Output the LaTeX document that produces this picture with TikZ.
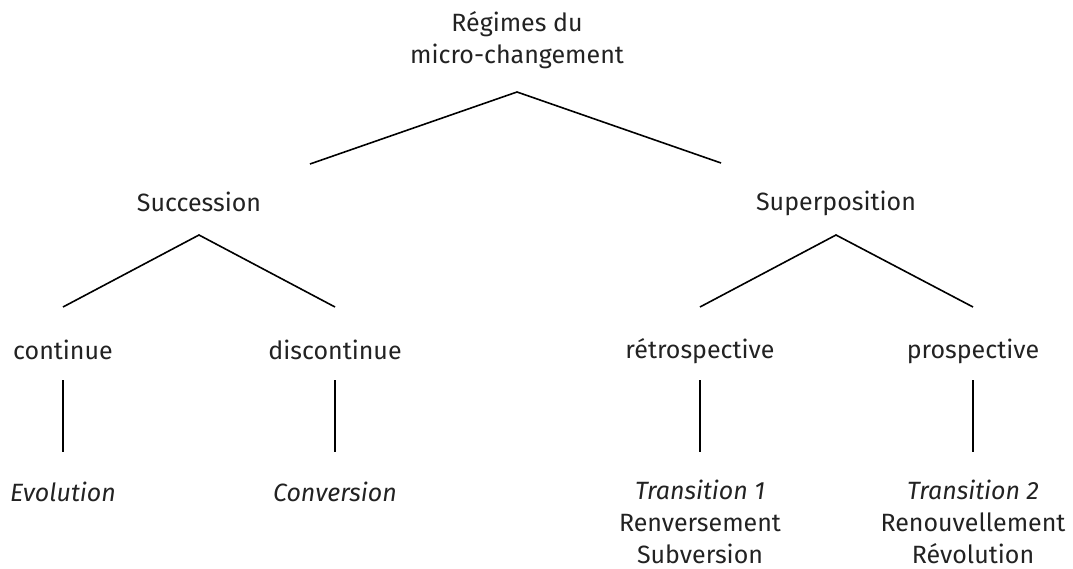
\documentclass[tikz,border=0pt]{standalone}
\usepackage{fontspec}
\setmainfont{Fira Sans}
\definecolor{txt}{HTML}{222222}
\begin{document}
\begin{tikzpicture}[x=1pt,y=-1pt,
  lbl/.style={inner sep=0pt,text=txt,font=\fontsize{25}{32}\selectfont,align=center},
  edge/.style={line width=1.6pt,black}]
\useasboundingbox (0,0) rectangle (1073,569);
% texts
\node[lbl] (root) at (517,40) {Régimes du\\micro-changement};
\node[lbl] (succ) at (199,202) {Succession};
\node[lbl] (sup) at (836,203) {Superposition};
\node[lbl] (cont) at (63,350) {continue};
\node[lbl] (disc) at (335,350) {discontinue};
\node[lbl] (retro) at (700,351) {rétrospective};
\node[lbl] (pros) at (973,351) {prospective};
\node[lbl] (evol) at (63,492) {\itshape Evolution};
\node[lbl] (conv) at (335,492) {\itshape Conversion};
\node[lbl] (tr1) at (700,522) {\textit{Transition 1}\\Renversement\\Subversion};
\node[lbl] (tr2) at (973,522) {\textit{Transition 2}\\Renouvellement\\Révolution};
% connector end points
\coordinate (rootA) at (517,92);
\coordinate (succT) at (310,164);
\coordinate (supT) at (721,163);
\coordinate (succA) at (199,235);
\coordinate (supA) at (836,235);
\coordinate (contT) at (63,307);
\coordinate (discT) at (335,307);
\coordinate (retroT) at (700,307);
\coordinate (prosT) at (973,307);
\coordinate (contB) at (63,380);
\coordinate (discB) at (335,380);
\coordinate (retroB) at (700,380);
\coordinate (prosB) at (973,380);
\coordinate (evolT) at (63,452);
\coordinate (convT) at (335,452);
\coordinate (tr1T) at (700,452);
\coordinate (tr2T) at (973,452);
% connectors
\draw[edge] (succT) -- (rootA) -- (supT);
\draw[edge] (contT) -- (succA) -- (discT);
\draw[edge] (retroT) -- (supA) -- (prosT);
\draw[edge] (contB) -- (evolT);
\draw[edge] (discB) -- (convT);
\draw[edge] (retroB) -- (tr1T);
\draw[edge] (prosB) -- (tr2T);
\end{tikzpicture}
\end{document}
